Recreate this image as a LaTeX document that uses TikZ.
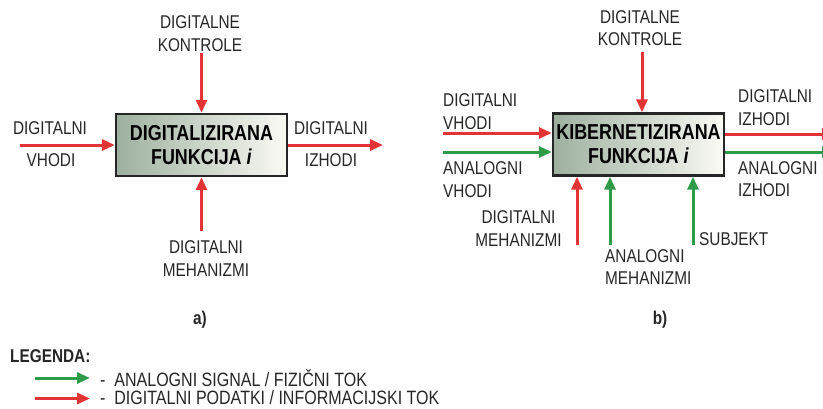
\documentclass[tikz,border=0pt]{standalone}
\usepackage{fontspec}
\setmainfont{Liberation Sans}[FakeStretch=0.83]
\usetikzlibrary{arrows.meta}
\definecolor{ared}{HTML}{E23434}
\definecolor{agreen}{HTML}{2E9B48}
\definecolor{boxleft}{HTML}{9DB09F}
\definecolor{boxright}{HTML}{FAFAF4}
\tikzset{
  lbl/.style={font=\fontsize{18.5}{22.5}\selectfont, text=black!85, inner sep=0pt, align=center},
  lblw/.style={lbl, align=left, anchor=west},
  lblb/.style={lbl, font=\fontsize{18.5}{22}\selectfont\bfseries},
  legt/.style={lblw, font=\fontsize{19.3}{22}\selectfont},
  fbox/.style={draw=black!85, line width=2.4pt, left color=boxleft, right color=boxright,
    minimum width=171pt, minimum height=62pt, inner sep=0pt, align=center,
    font=\fontsize{21.6}{24}\selectfont\bfseries},
  redarr/.style={draw=ared, line width=3pt, -{Triangle[length=13pt,width=11pt]}},
  grnarr/.style={draw=agreen, line width=3pt, -{Triangle[length=13pt,width=11pt]}},
}
\begin{document}
\begin{tikzpicture}[x=1pt,y=-1pt]
\useasboundingbox (0,0) rectangle (823,408);
\clip (0,0) rectangle (823,408);
% ---------- panel a ----------
\node[fbox] (A) at (201.5,145) {DIGITALIZIRANA\\FUNKCIJA \textit{i}};
\node[lbl] (actl) at (200,33.5) {DIGITALNE\\KONTROLE};
\coordinate (atop) at (201.5,53);
\draw[redarr] (atop) -- (A.north);
\coordinate (ain) at (20,145);
\draw[redarr] (ain) -- (A.west);
\node[lbl] (ain1) at (50,128) {DIGITALNI};
\node[lbl] (ain2) at (51,160) {VHODI};
\coordinate (aout) at (383,145);
\draw[redarr] (A.east) -- (aout);
\node[lbl] (aout1) at (331,128) {DIGITALNI};
\node[lbl] (aout2) at (331,160) {IZHODI};
\coordinate (abot) at (201.5,231);
\draw[redarr] (abot) -- (A.south);
\node[lbl] (amech) at (206,258.5) {DIGITALNI\\MEHANIZMI};
\node[lblb] (alab) at (200,320) {a)};
% ---------- panel b ----------
\node[fbox] (B) at (638.5,144.5) {KIBERNETIZIRANA\\FUNKCIJA \textit{i}};
\node[lbl] (bctl) at (640,28) {DIGITALNE\\KONTROLE};
\coordinate (btop) at (642,52);
\draw[redarr] (btop) -- (btop |- B.north);
\coordinate (bin1) at (443,133);
\coordinate (bin2) at (443,152);
\draw[redarr] (bin1) -- (bin1 -| B.west);
\draw[grnarr] (bin2) -- (bin2 -| B.west);
\node[lblw] (bdin) at (443,111.5) {DIGITALNI\\VHODI};
\node[lblw] (bain) at (443,179.5) {ANALOGNI\\VHODI};
\coordinate (bout1) at (835,134);
\coordinate (bout2) at (835,152);
\draw[redarr] (bout1 -| B.east) -- (bout1);
\draw[grnarr] (bout2 -| B.east) -- (bout2);
\node[lblw] (bdout) at (738,107.5) {DIGITALNI\\IZHODI};
\node[lblw] (baout) at (738,179) {ANALOGNI\\IZHODI};
\coordinate (bb1) at (577,245);
\coordinate (bb2) at (610,245);
\coordinate (bb3) at (693,245);
\draw[redarr] (bb1) -- (bb1 |- B.south);
\draw[grnarr] (bb2) -- (bb2 |- B.south);
\draw[grnarr] (bb3) -- (bb3 |- B.south);
\node[lbl] (bdm) at (518.5,228.5) {DIGITALNI\\MEHANIZMI};
\node[lblw] (bam) at (605,267) {ANALOGNI\\MEHANIZMI};
\node[lblw] (bsub) at (699,239) {SUBJEKT};
\node[lblb] (blab) at (660,320) {b)};
% ---------- legend ----------
\node[lblb, anchor=west] (leg) at (10,356) {LEGENDA:};
\coordinate (lg1) at (35,378);
\coordinate (lg2) at (90,378);
\coordinate (lr1) at (35,398.5);
\coordinate (lr2) at (90,398.5);
\draw[grnarr] (lg1) -- (lg2);
\draw[redarr] (lr1) -- (lr2);
\node[legt] (lgt) at (100,378) {-\ \ ANALOGNI SIGNAL / FIZIČNI TOK};
\node[legt] (lrt) at (100,398) {-\ \ DIGITALNI PODATKI / INFORMACIJSKI TOK};
\end{tikzpicture}
\end{document}
